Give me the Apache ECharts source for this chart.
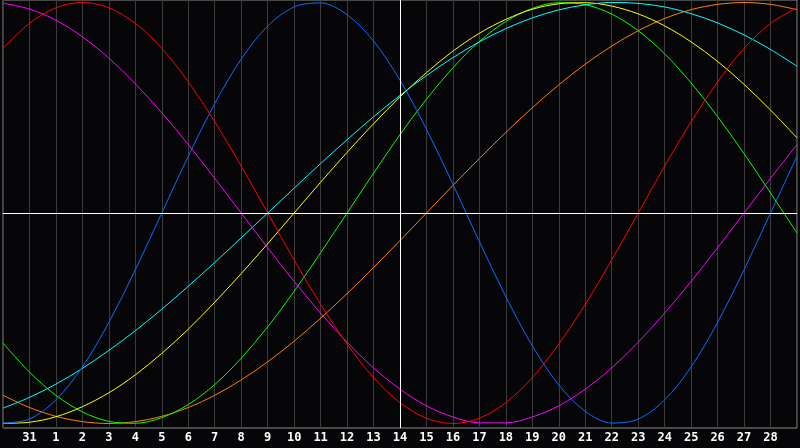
<!DOCTYPE html>
<html>
<head>
<meta charset="utf-8">
<script src="https://cdn.jsdelivr.net/npm/echarts@6/dist/echarts.min.js"></script>
<style>
html,body{margin:0;padding:0;background:#060609;}
#c{width:800px;height:448px;}
</style>
</head>
<body>
<div id="c"></div>
<script>
var dayLabels = ['30','31','1','2','3','4','5','6','7','8','9','10','11','12','13','14','15','16','17','18','19','20','21','22','23','24','25','26','27','28','29'];

var physical = [-0.998,-0.979,-0.888,-0.731,-0.520,-0.270,0,0.270,0.520,0.731,0.888,0.979,0.998,0.942,0.817,0.631,0.398,0.136,-0.136,-0.398,-0.631,-0.817,-0.942,-0.998,-0.979,-0.888,-0.731,-0.520,-0.270,0,0.270];
var emotional = [0.782,0.901,0.975,1,0.975,0.901,0.782,0.623,0.434,0.223,0,-0.223,-0.434,-0.623,-0.782,-0.901,-0.975,-1,-0.975,-0.901,-0.782,-0.623,-0.434,-0.223,0,0.223,0.434,0.623,0.782,0.901,0.975];
var intellectual = [-0.618,-0.756,-0.866,-0.945,-0.990,-0.999,-0.972,-0.910,-0.815,-0.690,-0.541,-0.372,-0.189,0,0.189,0.372,0.541,0.690,0.815,0.910,0.972,0.999,0.990,0.945,0.866,0.756,0.618,0.458,0.282,0.095,-0.095];
var intuitive = [0.997,0.969,0.916,0.837,0.736,0.614,0.476,0.325,0.165,0,-0.165,-0.325,-0.476,-0.614,-0.736,-0.837,-0.916,-0.969,-0.997,-0.997,-0.969,-0.916,-0.837,-0.736,-0.614,-0.476,-0.325,-0.165,0,0.165,0.325];
var aesthetic = [-0.999,-0.994,-0.968,-0.920,-0.854,-0.769,-0.667,-0.552,-0.424,-0.288,-0.146,0,0.146,0.288,0.424,0.552,0.667,0.769,0.854,0.920,0.968,0.994,0.999,0.983,0.946,0.889,0.813,0.720,0.611,0.489,0.357];
var awareness = [-0.866,-0.924,-0.966,-0.991,-1,-0.991,-0.966,-0.924,-0.866,-0.793,-0.707,-0.609,-0.5,-0.383,-0.259,-0.131,0,0.131,0.259,0.383,0.5,0.609,0.707,0.793,0.866,0.924,0.966,0.991,1,0.991,0.966];
var spiritual = [-0.927,-0.876,-0.813,-0.738,-0.653,-0.559,-0.457,-0.348,-0.235,-0.118,0,0.118,0.235,0.348,0.457,0.559,0.653,0.738,0.813,0.876,0.927,0.965,0.989,1.000,0.996,0.979,0.947,0.903,0.846,0.777,0.697];

var todayIndex = 15;

var chart = echarts.init(document.getElementById('c'), null, {renderer: 'canvas'});

function line(name, data, color, extra) {
  var s = {
    name: name,
    type: 'line',
    data: data,
    smooth: 0.33,
    symbol: 'none',
    silent: true,
    lineStyle: {color: color, width: 1},
    animation: false
  };
  if (extra) { for (var k in extra) s[k] = extra[k]; }
  return s;
}

chart.setOption({
  backgroundColor: '#060609',
  animation: false,
  grid: {
    left: 0, right: 0, top: 0, bottom: 20,
    show: true,
    borderColor: '#8a8a8a',
    borderWidth: 1,
    backgroundColor: '#060609'
  },
  xAxis: {
    type: 'category',
    data: dayLabels,
    boundaryGap: false,
    axisLine: {show: true, lineStyle: {color: '#8a8a8a', width: 1}},
    axisTick: {show: false},
    splitLine: {show: true, interval: 0, lineStyle: {color: '#3c3c3c', width: 1}},
    axisLabel: {
      interval: 0,
      margin: 4,
      color: '#ffffff',
      fontFamily: 'DejaVu Sans Mono',
      fontWeight: 'bold',
      fontSize: 12,
      formatter: function (v, i) { return (i === 0 || i === dayLabels.length - 1) ? '' : v; }
    }
  },
  yAxis: {
    type: 'value',
    min: -1.0214,
    max: 1.0119,
    show: false,
    splitLine: {show: false}
  },
  series: [
    line('Awareness', awareness, '#ff8000'),
    line('Intellectual', intellectual, '#00ff00'),
    line('Aesthetic', aesthetic, '#ffff00'),
    line('Spiritual', spiritual, '#00ffff'),
    line('Physical', physical, '#0a6cff'),
    line('Intuitive', intuitive, '#ff00ff'),
    line('Emotional', emotional, '#ff0000', {
      markLine: {
        silent: true,
        symbol: ['none', 'none'],
        label: {show: false},
        lineStyle: {color: '#ffffff', width: 1, type: 'solid'},
        data: [{yAxis: 0}, {xAxis: todayIndex}]
      }
    })
  ]
});
</script>
</body>
</html>
